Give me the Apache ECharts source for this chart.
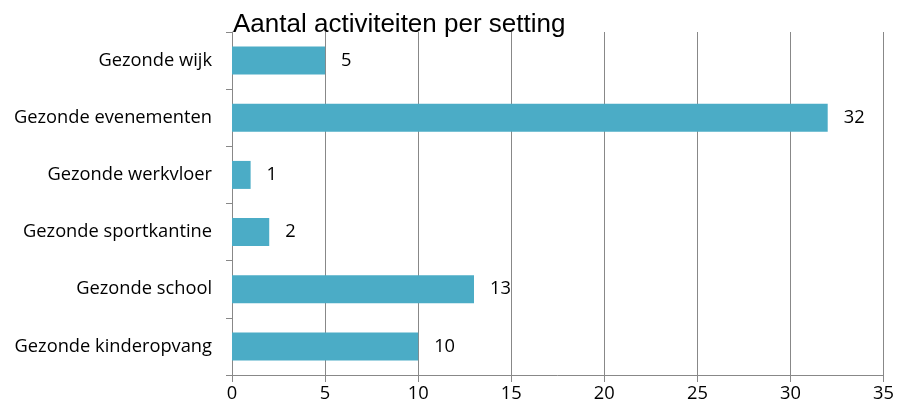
<!DOCTYPE html>
<html><head><meta charset="utf-8">
<script src="https://cdn.jsdelivr.net/npm/echarts@6/dist/echarts.min.js"></script>
<style>html,body{margin:0;padding:0;background:#fff}#c{width:897px;height:413px}</style>
</head><body><div id="c"></div>
<script>
const categories = ['Gezonde kinderopvang','Gezonde school','Gezonde sportkantine','Gezonde werkvloer','Gezonde evenementen','Gezonde wijk'];
const values = [10, 13, 2, 1, 32, 5];
const titleText = 'Aantal activiteiten per setting';
const chart = echarts.init(document.getElementById('c'));
const font = '"Open Sans", sans-serif';
const fs = 18.3;
chart.setOption({
  animation: false,
  title: { text: titleText, left: 228, top: 7, textStyle: { fontFamily: '"Liberation Sans", Arial, sans-serif', fontSize: 26, fontWeight: 'normal', color: '#000' } },
  grid: { left: 232, right: 13, top: 32, bottom: 38 },
  xAxis: {
    type: 'value', min: 0, max: 35, interval: 5,
    axisLine: { show: true, lineStyle: { color: '#888888', width: 1 } },
    axisTick: { show: true, length: 7, lineStyle: { color: '#888888' } },
    axisLabel: { margin: 10, fontFamily: font, fontSize: fs, color: '#000' },
    splitLine: { show: true, lineStyle: { color: '#888888', width: 1 } }
  },
  yAxis: {
    type: 'category', data: categories,
    axisLine: { show: true, lineStyle: { color: '#888888', width: 1 } },
    axisTick: { show: true, length: 6, lineStyle: { color: '#888888' } },
    axisLabel: { margin: 20, fontFamily: font, fontSize: fs, color: '#000' }
  },
  series: [{
    type: 'bar', data: values, barWidth: 28,
    itemStyle: { color: '#4bacc6' },
    label: { show: true, position: 'right', distance: 16, fontFamily: font, fontSize: fs, color: '#000' }
  }]
});
</script></body></html>
